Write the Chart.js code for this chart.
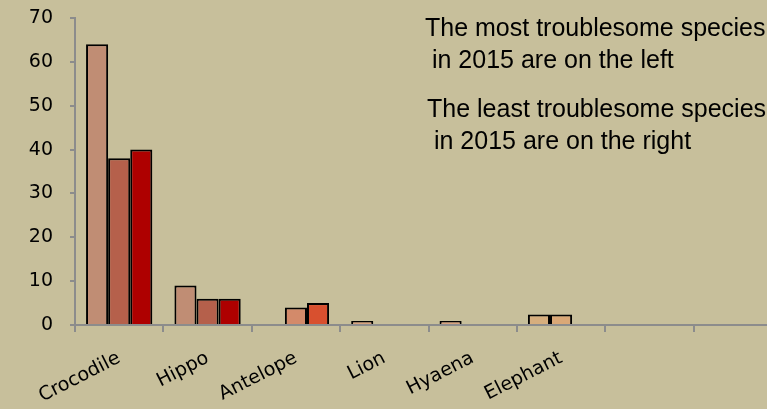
<!DOCTYPE html>
<html>
<head>
<meta charset="utf-8">
<script src="https://cdn.jsdelivr.net/npm/chart.js@4/dist/chart.umd.min.js"></script>
<style>
  html, body { margin: 0; padding: 0; background: #C7BF9B; overflow: hidden; }
  #wrap { position: relative; width: 790px; height: 409px; }
</style>
</head>
<body>
<div id="wrap"><canvas id="c"></canvas></div>
<script>
// ---- data ----
const categories = ['Crocodile', 'Hippo', 'Antelope', 'Lion', 'Hyaena', 'Elephant', '', ''];
const series1 = [64, 9, null, 0.9, 0.9, 2.4, null, null];
const series2 = [38, 6, 4, null, null, 2.4, null, null];
const series3 = [40, 6, 5, null, null, null, null, null];
const yTicks = [0, 10, 20, 30, 40, 50, 60, 70];
const noteLines = [
  'The most troublesome species',
  ' in 2015 are on the left',
  'The least troublesome species',
  ' in 2015 are on the right'
];

// ---- styles ----
const colors1 = ['#C08D74', '#C08D74', '#C08D74', '#D8A27F', '#D8A27F', '#D6AE7E', '#D6AE7E', '#D6AE7E'];
const colors2 = ['#B5604B', '#B5604B', '#D38A6A', '#D38A6A', '#D38A6A', '#DAA877', '#DAA877', '#DAA877'];
const colors3 = ['#AE0000', '#AE0000', '#D8502F', '#D8502F', '#D8502F', '#D8502F', '#D8502F', '#D8502F'];

const notesPlugin = {
  id: 'notes',
  afterDraw(chart) {
    const ctx = chart.ctx;
    ctx.save();
    ctx.font = '25px "Liberation Sans", Arial, sans-serif';
    ctx.fillStyle = '#000';
    ctx.textBaseline = 'alphabetic';
    ctx.textAlign = 'left';
    const pos = [[425, 36], [425, 68], [427, 117], [427, 149]];
    noteLines.forEach((t, i) => ctx.fillText(t, pos[i][0], pos[i][1]));
    ctx.restore();
  }
};

const axisColor = '#8C8C8C';
const dsCommon = { borderColor: '#000', borderWidth: 2, borderSkipped: 'start' };

new Chart(document.getElementById('c'), {
  type: 'bar',
  data: {
    labels: categories,
    datasets: [
      Object.assign({ label: 'A', data: series1, backgroundColor: colors1 }, dsCommon),
      Object.assign({ label: 'B', data: series2, backgroundColor: colors2 }, dsCommon),
      Object.assign({ label: 'C', data: series3, backgroundColor: colors3 }, dsCommon)
    ]
  },
  options: {
    responsive: true,
    maintainAspectRatio: false,
    animation: false,
    layout: { padding: { top: 18, right: 8, left: 0, bottom: 0 } },
    plugins: { legend: { display: false }, tooltip: { enabled: false } },
    datasets: { bar: { categoryPercentage: 0.75, barPercentage: 1 } },
    scales: {
      x: {
        grid: { drawOnChartArea: false, drawTicks: true, tickLength: 7, color: axisColor, lineWidth: 2, offset: true },
        border: { color: axisColor, width: 2 },
        ticks: {
          color: '#000',
          font: { family: '"DejaVu Sans", sans-serif', size: 19 },
          minRotation: 27, maxRotation: 27, padding: 15, autoSkip: false
        },
        afterFit(s) { s.height = 84; }
      },
      y: {
        min: 0, max: 70,
        afterBuildTicks(s) { s.ticks = yTicks.map(v => ({ value: v })); },
        grid: { drawOnChartArea: false, drawTicks: true, tickLength: 5, color: axisColor, lineWidth: 2 },
        border: { color: axisColor, width: 2 },
        ticks: {
          color: '#000',
          font: { family: '"DejaVu Sans", sans-serif', size: 19 },
          padding: 17
        },
        afterFit(s) { s.width = 75; s.paddingTop = 0; s.paddingBottom = 0; }
      }
    }
  },
  plugins: [notesPlugin]
});
</script>
</body>
</html>
